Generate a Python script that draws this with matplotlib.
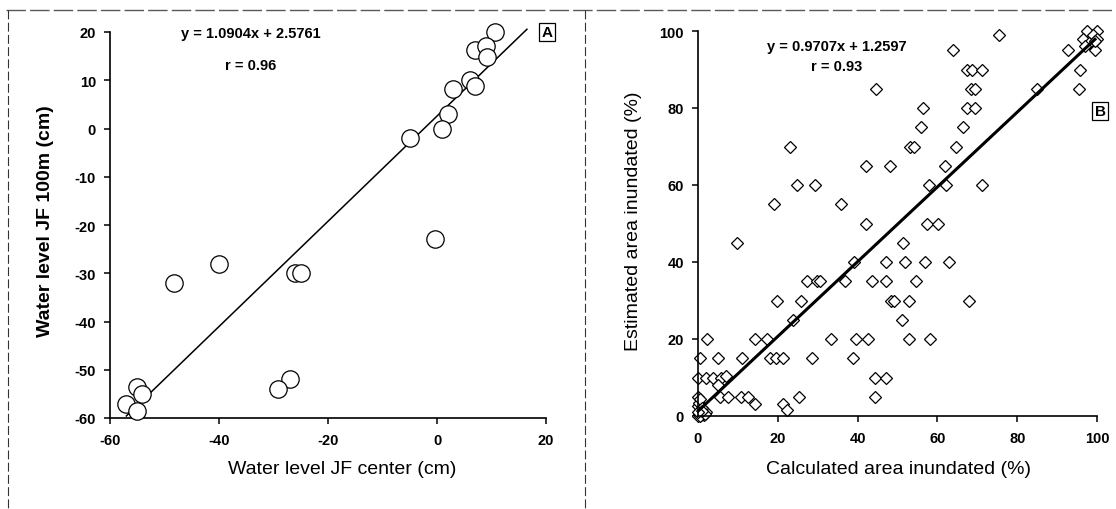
import matplotlib
matplotlib.use("Agg")
import matplotlib.pyplot as plt
from matplotlib.lines import Line2D

plt.rcParams['font.family'] = ['Liberation Sans', 'DejaVu Sans']
plt.rcParams['axes.unicode_minus'] = False

W, H = 1116, 510

# panel A: water level at JF centre vs JF 100 m (cm)
center_cm = [10.7, 7.0, 9.0, 9.1, 6.0, 7.0, 2.9, 2.0, 1.0, -4.9, -0.3,
             -40.0, -48.2, -26.1, -24.9, -26.9, -29.1, -55.0, -54.2, -57.0, -55.0]
jf100_cm = [20.0, 16.3, 17.0, 14.8, 10.1, 8.8, 8.1, 3.0, 0.0, -2.0, -23.0,
            -28.0, -32.0, -30.0, -30.0, -52.0, -54.0, -53.6, -55.0, -57.0, -58.6]
slope_a, icpt_a = 1.0904, 2.5761
xfit_a = [-57.0, 16.5]

# panel B: calculated vs estimated area inundated (%)
calc_hi = [75.5, 64.0, 44.5, 67.3, 68.6, 71.1, 68.4, 69.3, 67.3, 69.4, 56.3, 55.9,
           66.3, 23.0, 53.2, 54.1, 64.7, 42.0, 48.2, 62.0, 24.8, 29.4, 58.0, 62.2,
           71.2, 19.0, 35.8, 85.0, 95.6, 95.8, 92.7, 99.4, 42.0, 57.4, 60.1,
           97.5, 100.0, 96.5, 99.0, 100.0, 98.0, 99.5, 97.0]
est_hi = [99, 95, 85, 90, 90, 90, 85, 85, 80, 80, 80, 75,
          75, 70, 70, 70, 70, 65, 65, 65, 60, 60, 60, 60,
          60, 55, 55, 85, 85, 90, 95, 95, 50, 50, 50,
          100, 100, 98, 99, 98, 97, 97.5, 96]
calc_mid = [9.7, 51.5, 39.0, 47.0, 51.9, 56.9, 62.9, 27.4, 29.9, 30.7, 36.8, 43.5,
            47.0, 54.6, 19.7, 25.8, 48.3, 49.1, 52.9, 67.9, 23.9, 51.1, 2.2, 14.3,
            17.2, 33.3, 39.5, 42.5, 53.0, 58.1, 0.5, 5.1, 11.0, 18.0, 19.5, 21.4,
            28.5, 38.9]
est_mid = [45, 45, 40, 40, 40, 40, 40, 35, 35, 35, 35, 35,
           35, 35, 30, 30, 30, 30, 30, 30, 25, 25, 20, 20,
           20, 20, 20, 20, 20, 20, 15, 15, 15, 15, 15, 15,
           15, 15]
calc_lo = [0.0, 2.0, 3.8, 5.8, 7.1, 44.4, 47.0, 5.0, 0.0, 5.4, 7.5, 10.9,
           12.5, 14.2, 25.3, 44.4, 21.2, 22.4,
           0.0, 0.3, 0.8, 1.2, 0.5, 0.0, 0.2, 0.6, 1.5, 2.0, 1.0, 0.4, 1.8, 0.9, 0.0]
est_lo = [10, 10, 10, 10, 10.5, 10, 10, 8, 5, 5, 5, 5,
          5, 3, 5, 5, 3, 1.6,
          0, 0.6, 0.2, 0.8, 1.5, 2.5, 3.5, 4.5, 0.3, 1, 2, 0, 0.5, 1.2, 1]
slope_b, icpt_b = 0.9707, 1.2597
xfit_b = [0.0, 99.5]

calc_pct = calc_hi + calc_mid + calc_lo
est_pct = est_hi + est_mid + est_lo


def fx(px):
    return px / W


def fy(py):
    return 1 - py / H


fig = plt.figure(figsize=(W / 100, H / 100), dpi=100)

# frame lines around the two panels
fig.add_artist(Line2D([fx(6), fx(W)], [fy(11), fy(11)], color='0.35', lw=1.0,
                      linestyle=(0, (14, 3))))
fig.add_artist(Line2D([fx(8), fx(8)], [fy(11), fy(H)], color='0.2', lw=0.8,
                      linestyle=(0, (8, 3))))
fig.add_artist(Line2D([fx(585), fx(585)], [fy(11), fy(H)], color='0.2', lw=0.8,
                      linestyle=(0, (8, 3))))

axA = fig.add_axes([fx(110), fy(419), (546 - 110) / W, (419 - 33) / H])
axB = fig.add_axes([fx(698), fy(417), (1097 - 698) / W, (417 - 32) / H])

axA.plot(center_cm, jf100_cm, 'o', ms=12.5, mfc='white', mec='black', mew=0.9,
         clip_on=False, zorder=3)
axA.plot(xfit_a, [slope_a * x + icpt_a for x in xfit_a], color='black', lw=1.1,
         clip_on=False, zorder=2)
axA.set_xlim(-60, 20)
axA.set_ylim(-60, 20)
axA.set_xticks([-60, -40, -20, 0, 20])
axA.set_yticks(range(-60, 21, 10))

axB.plot(calc_pct, est_pct, 'D', ms=6.5, mfc='white', mec='black', mew=0.9,
         clip_on=False, zorder=2)
axB.plot(xfit_b, [slope_b * x + icpt_b for x in xfit_b], color='black', lw=2.2,
         clip_on=False, zorder=3)
axB.set_xlim(0, 100)
axB.set_ylim(0, 100)
axB.set_xticks(range(0, 101, 20))
axB.set_yticks(range(0, 101, 20))

for ax in (axA, axB):
    ax.spines['top'].set_visible(False)
    ax.spines['right'].set_visible(False)
    ax.spines['left'].set_linewidth(1.2)
    ax.spines['bottom'].set_linewidth(1.2)
    ax.tick_params(direction='out', length=4, width=1.1, labelsize=10.5)
    ax.tick_params(axis='x', pad=7)
    ax.tick_params(axis='y', pad=6)
    plt.setp(ax.get_xticklabels() + ax.get_yticklabels(), fontweight='bold')

# axis titles
fig.text(fx(342), fy(470), 'Water level JF center (cm)', fontsize=14,
         ha='center', va='center')
fig.text(fx(46), fy(221), 'Water level JF 100m (cm)', fontsize=14,
         fontweight='bold', rotation=90, ha='center', va='center')
fig.text(fx(898), fy(470), 'Calculated area inundated (%)', fontsize=14,
         ha='center', va='center')
fig.text(fx(634), fy(221), 'Estimated area inundated (%)', fontsize=14,
         rotation=90, ha='center', va='center')

# regression equations
fig.text(fx(251), fy(34), 'y = 1.0904x + 2.5761', fontsize=10.5, fontweight='bold',
         ha='center', va='center')
fig.text(fx(251), fy(66), 'r = 0.96', fontsize=10.5, fontweight='bold',
         ha='center', va='center')
fig.text(fx(837), fy(47), 'y = 0.9707x + 1.2597', fontsize=10.5, fontweight='bold',
         ha='center', va='center')
fig.text(fx(837), fy(67), 'r = 0.93', fontsize=10.5, fontweight='bold',
         ha='center', va='center')

# panel letters
box = dict(boxstyle='square,pad=0.15', fc='white', ec='black', lw=0.9)
fig.text(fx(547), fy(33), 'A', fontsize=11, fontweight='bold', ha='center',
         va='center', bbox=box)
fig.text(fx(1100), fy(112), 'B', fontsize=11, fontweight='bold', ha='center',
         va='center', bbox=box)

fig.savefig('out.png', dpi=100)
